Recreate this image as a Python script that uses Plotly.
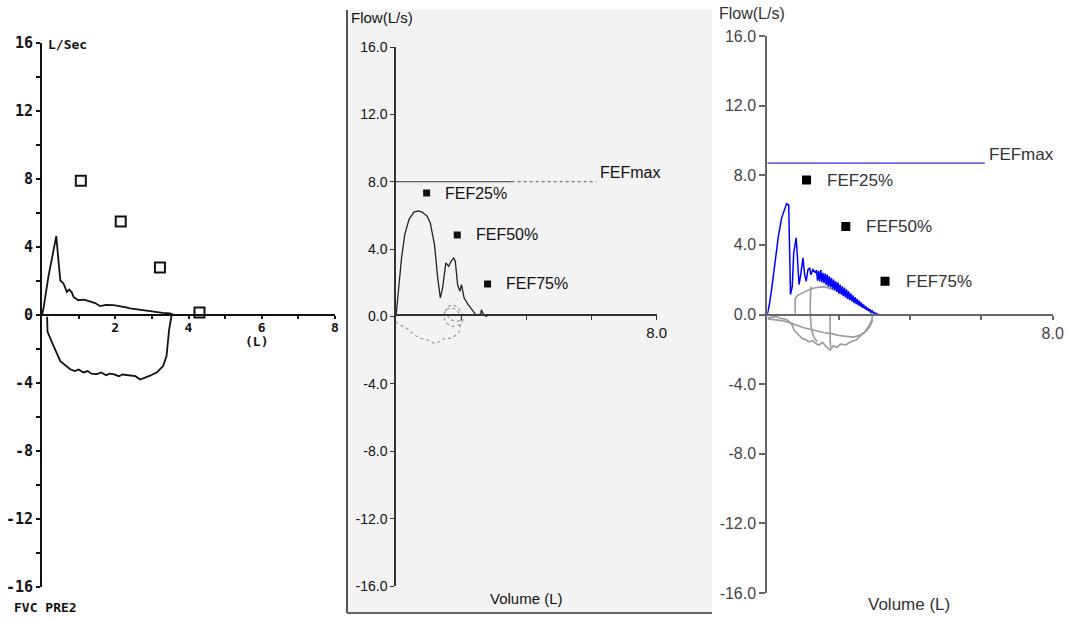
import plotly.graph_objects as go

W, H = 1066, 618
def px(x): return x / W
def py(y): return 1 - y / H

# ---------------- Panel 1 (dot-matrix printout) ----------------
p1_exp_vol = [0, 0.04, 0.18, 0.27, 0.33, 0.39, 0.45, 0.5, 0.59, 0.68, 0.74, 0.81, 0.86, 0.99, 1.15, 1.31, 1.45, 1.59, 1.75, 1.95, 2.05, 2.18, 2.3, 2.4, 2.6, 2.77, 2.95, 3.13, 3.3, 3.5, 3.6]
p1_exp_flow = [0, 0.39, 2.32, 3.38, 3.96, 4.64, 3.19, 2.03, 1.84, 1.35, 1.5, 1.35, 1.06, 0.87, 0.9, 0.77, 0.7, 0.52, 0.6, 0.58, 0.55, 0.48, 0.45, 0.39, 0.33, 0.25, 0.2, 0.15, 0.12, 0.1, 0]
p1_insp_vol = [0.14, 0.15, 0.32, 0.5, 0.77, 0.9, 1.0, 1.13, 1.25, 1.35, 1.5, 1.62, 1.75, 1.85, 1.95, 2.1, 2.2, 2.4, 2.55, 2.68, 2.8, 2.95, 3.15, 3.31, 3.4, 3.47, 3.54]
p1_insp_flow = [-0.1, -0.97, -1.84, -2.71, -3.19, -3.3, -3.2, -3.38, -3.3, -3.45, -3.48, -3.38, -3.55, -3.45, -3.48, -3.6, -3.5, -3.57, -3.6, -3.8, -3.7, -3.57, -3.35, -2.99, -2.42, -0.87, 0]
p1_ref_vol = [1.06, 2.15, 3.22, 4.3]
p1_ref_flow = [7.9, 5.5, 2.8, 0.15]
p1_ytick_vals = list(range(-16, 17, 2))
p1_ytick_text = [str(v) if v % 4 == 0 else '' for v in p1_ytick_vals]
p1_xtick_vals = list(range(1, 9))
p1_xtick_text = ['', '2', '', '4', '', '6', '', '8']

# ---------------- Panel 2 (scanned report) ----------------
p2_exp_vol = [0, 0.07, 0.17, 0.27, 0.4, 0.55, 0.68, 0.8, 0.95, 1.05, 1.18, 1.28, 1.36, 1.43, 1.53, 1.62, 1.69, 1.77, 1.82, 1.89, 1.96, 2.01, 2.09, 2.2, 2.3, 2.45, 2.6, 2.62, 2.7, 2.8]
p2_exp_flow = [0, 1.49, 3.48, 4.88, 5.77, 6.2, 6.27, 6.2, 5.97, 5.57, 4.28, 2.29, 1.1, 1.7, 3.18, 2.98, 3.28, 3.48, 3.28, 1.89, 1.49, 1.89, 1.1, 0.75, 0.5, 0.1, 0.14, 0.4, 0.06, 0]
p2_insp_vol = [0, 0.1, 0.25, 0.4, 0.56, 0.77, 0.97, 1.18, 1.33, 1.48, 1.69, 1.84, 1.94, 2.0, 2.02]
p2_insp_flow = [-0.3, -0.5, -0.6, -0.8, -1.1, -1.3, -1.4, -1.6, -1.5, -1.3, -1.3, -1.1, -0.9, -0.3, 0.1]
p2_loop_vol = [1.5, 1.6, 1.75, 1.9, 2.02, 2.06, 1.95, 1.75, 1.55, 1.46, 1.5, 1.58, 1.68, 1.83, 1.97, 2.02, 1.88, 1.68, 1.56]
p2_loop_flow = [0.3, 0.6, 0.7, 0.55, 0.2, -0.2, -0.5, -0.6, -0.4, 0.0, 0.3, 0.45, 0.5, 0.45, 0.1, -0.15, -0.3, -0.2, 0.1]
p2_fef_vol = [0.94, 1.88, 2.81]
p2_fef_flow = [7.33, 4.84, 1.93]
p2_fefmax = 8.0
p2_fefmax_vol = [0, 3.55, 6.15]

# ---------------- Panel 3 (software screen) ----------------
p3_blue_vol = [0, 0.06, 0.12, 0.22, 0.31, 0.4, 0.5, 0.54, 0.6, 0.63, 0.65, 0.7, 0.74, 0.81, 0.86, 0.89, 0.93, 1.0, 1.04, 1.09, 1.14, 1.19, 1.22, 1.28, 1.35,
               1.38, 1.41, 1.44, 1.47, 1.50, 1.53, 1.56, 1.59, 1.62, 1.65, 1.68, 1.71, 1.74, 1.77, 1.80, 1.83, 1.86, 1.89, 1.92, 1.95,
               1.98, 2.01, 2.04, 2.07, 2.10, 2.13, 2.16, 2.19, 2.22, 2.25, 2.28, 2.31, 2.34, 2.37, 2.40, 2.43, 2.46, 2.49, 2.52, 2.55,
               2.58, 2.61, 2.64, 2.67, 2.70, 2.73, 2.76, 2.79, 2.82, 2.85, 2.88, 2.91, 2.94, 2.97, 3.00, 3.03, 3.06, 3.09, 3.12, 3.14]
p3_blue_flow = [0, 0.6, 1.43, 2.96, 4.49, 5.54, 6.12, 6.36, 6.3, 3.35, 1.15, 1.62, 3.54, 4.4, 2.77, 1.72, 2.2, 3.25, 2.39, 1.91, 2.58, 2.68, 2.29, 2.58, 2.39,
                2.55, 1.95, 2.5, 1.9, 2.55, 1.85, 2.4, 1.8, 2.35, 1.7, 2.3, 1.6, 2.2, 1.55, 2.1, 1.45, 2.0, 1.4, 1.9, 1.3,
                1.85, 1.2, 1.72, 1.15, 1.62, 1.05, 1.55, 0.98, 1.45, 0.9, 1.33, 0.82, 1.22, 0.75, 1.1, 0.66, 1.0, 0.6, 0.9, 0.52,
                0.8, 0.45, 0.68, 0.38, 0.58, 0.32, 0.48, 0.26, 0.38, 0.2, 0.3, 0.14, 0.2, 0.09, 0.12, 0.05, 0.06, 0.02, 0.02, 0]
p3_gray_exp_vol = [0.78, 0.78, 0.85, 0.93, 1.05, 1.15, 1.25, 1.4, 1.48, 1.6, 1.75, 1.9, 2.05, 2.18, 2.35, 2.5, 2.65, 2.8, 2.93]
p3_gray_exp_flow = [0, 0.92, 1.1, 1.2, 1.3, 1.4, 1.49, 1.55, 1.58, 1.6, 1.5, 1.4, 1.25, 1.1, 0.9, 0.7, 0.5, 0.28, 0.06]
p3_gray_i1_vol = [0, 0.1, 0.23, 0.35, 0.42, 0.55, 0.61, 0.7, 0.75, 0.85, 0.98, 1.08, 1.17, 1.27, 1.36, 1.45, 1.55, 1.65, 1.76, 1.85, 1.95, 2.05, 2.2, 2.35, 2.5, 2.62, 2.75, 2.85, 2.93, 2.95]
p3_gray_i1_flow = [-0.2, -0.15, -0.12, -0.2, -0.23, -0.3, -0.42, -0.6, -0.9, -1.1, -1.38, -1.45, -1.57, -1.5, -1.67, -1.75, -1.6, -1.85, -2.04, -1.8, -1.9, -1.7, -1.75, -1.55, -1.45, -1.2, -0.95, -0.65, -0.3, 0.0]
p3_gray_i2_vol = [0.02, 0.2, 0.4, 0.6, 0.8, 1.0, 1.2, 1.4, 1.6, 1.8, 2.0, 2.2, 2.4, 2.6, 2.75, 2.88, 2.95]
p3_gray_i2_flow = [-0.25, -0.3, -0.35, -0.45, -0.6, -0.75, -0.85, -0.95, -1.05, -1.1, -1.2, -1.25, -1.3, -1.2, -1.0, -0.7, -0.3]
p3_gray_v1_vol = [1.22, 1.21, 1.2, 1.21, 1.23, 1.27, 1.33, 1.4]
p3_gray_v1_flow = [1.6, 1.1, 0.4, -0.2, -0.7, -1.1, -1.4, -1.56]
p3_gray_v2_vol = [1.76, 1.76, 1.75, 1.76, 1.78]
p3_gray_v2_flow = [0.0, -0.5, -1.0, -1.5, -1.9]
p3_fef_vol = [1.1, 2.2, 3.3]
p3_fef_flow = [7.72, 5.06, 1.91]
p3_fefmax = 8.7
p3_fefmax_vol = [0, 6.1]

fef_labels = ['FEF25%', 'FEF50%', 'FEF75%']
ytick_vals = list(range(-16, 17, 4))
ytick_text = ['%.1f' % v for v in ytick_vals]

fig = go.Figure()

def line(x, y, ax, color, width, dash='solid'):
    fig.add_trace(go.Scatter(x=x, y=y, mode='lines', xaxis='x' + ax, yaxis='y' + ax,
                             line=dict(color=color, width=width, dash=dash),
                             showlegend=False, hoverinfo='skip'))

# Panel 1
line(p1_exp_vol, p1_exp_flow, '', '#111', 1.8)
line(p1_insp_vol, p1_insp_flow, '', '#111', 1.8)
fig.add_trace(go.Scatter(x=p1_ref_vol, y=p1_ref_flow, mode='markers', xaxis='x', yaxis='y',
                         marker=dict(symbol='square-open', size=10, color='#111', line=dict(width=2, color='#111')),
                         showlegend=False, hoverinfo='skip'))

# Panel 2
line(p2_fefmax_vol[:2], [p2_fefmax] * 2, '2', '#333', 1.2)
line(p2_fefmax_vol[1:], [p2_fefmax] * 2, '2', '#555', 1.2, 'dot')
line(p2_insp_vol, p2_insp_flow, '2', '#999', 1.2, 'dot')
line(p2_loop_vol, p2_loop_flow, '2', '#999', 1.2, 'dot')
line(p2_exp_vol, p2_exp_flow, '2', '#222', 1.3)
fig.add_trace(go.Scatter(x=p2_fef_vol, y=p2_fef_flow, mode='markers', xaxis='x2', yaxis='y2',
                         marker=dict(symbol='square', size=7, color='#111'),
                         showlegend=False, hoverinfo='skip'))

# Panel 3
line(p3_fefmax_vol, [p3_fefmax] * 2, '3', '#2a2ae0', 1.3)
for vx, vy in [(p3_gray_exp_vol, p3_gray_exp_flow), (p3_gray_i1_vol, p3_gray_i1_flow),
               (p3_gray_i2_vol, p3_gray_i2_flow), (p3_gray_v1_vol, p3_gray_v1_flow),
               (p3_gray_v2_vol, p3_gray_v2_flow)]:
    line(vx, vy, '3', '#9a9a9a', 1.6)
line(p3_blue_vol, p3_blue_flow, '3', '#0000ff', 1.5)
fig.add_trace(go.Scatter(x=p3_fef_vol, y=p3_fef_flow, mode='markers', xaxis='x3', yaxis='y3',
                         marker=dict(symbol='square', size=9, color='#000'),
                         showlegend=False, hoverinfo='skip'))

mono = dict(family='DejaVu Sans Mono', size=15, color='#111', weight='bold')
mono_s = dict(family='DejaVu Sans Mono', size=13, color='#111', weight='bold')
arial2 = dict(family='Liberation Sans', size=14, color='#111')
arial3 = dict(family='Liberation Sans', size=16, color='#444')

layout = dict(
    width=W, height=H, margin=dict(l=0, r=0, t=0, b=0, pad=0), autosize=False,
    template='none',
    paper_bgcolor='white', plot_bgcolor='rgba(0,0,0,0)',
    # Panel 1 axes
    xaxis=dict(domain=[px(42), px(335)], range=[0, 8], anchor='free', position=py(315),
               showline=True, linecolor='#111', linewidth=2, ticks='outside', ticklen=3,
               tickwidth=2, tickcolor='#111', tickmode='array', tickvals=p1_xtick_vals,
               ticktext=p1_xtick_text, tickfont=mono_s, ticklabelstandoff=-3,
               showgrid=False, zeroline=False, automargin=False),
    yaxis=dict(domain=[py(587), py(43)], range=[-16, 16], anchor='x',
               showline=True, linecolor='#111', linewidth=2, ticks='outside', ticklen=4,
               tickwidth=2, tickcolor='#111', tickmode='array', tickvals=p1_ytick_vals,
               ticktext=p1_ytick_text, tickfont=mono, showgrid=False, zeroline=False, automargin=False),
    # Panel 2 axes
    xaxis2=dict(domain=[px(396), px(656.7)], range=[0, 8], anchor='free', position=py(315),
                showline=True, linecolor='#333', linewidth=1.5, ticks='outside', ticklen=4,
                tickwidth=1, tickcolor='#333', tickmode='array', tickvals=[2, 4, 6, 8],
                ticktext=['', '', '', '8.0'], tickfont=dict(family='Liberation Sans', size=15, color='#111'),
                showgrid=False, zeroline=False, automargin=False),
    yaxis2=dict(domain=[py(586), py(47)], range=[-16, 16], anchor='x2',
                showline=True, linecolor='#333', linewidth=1.5, ticks='outside', ticklen=4,
                tickwidth=1, tickcolor='#333', tickmode='array', tickvals=ytick_vals,
                ticktext=ytick_text, tickfont=arial2, showgrid=False, zeroline=False, automargin=False),
    # Panel 3 axes
    xaxis3=dict(domain=[px(767.3), px(1052.7)], range=[0, 8], anchor='free', position=py(315),
                showline=True, linecolor='#666', linewidth=2, ticks='outside', ticklen=4,
                tickwidth=1.5, tickcolor='#666', tickmode='array', tickvals=[2, 4, 6, 8],
                ticktext=['', '', '', '8.0'], tickfont=arial3, showgrid=False, zeroline=False, automargin=False),
    yaxis3=dict(domain=[py(593), py(36)], range=[-16, 16], anchor='x3',
                showline=True, linecolor='#666', linewidth=2, ticks='outside', ticklen=6,
                tickwidth=1.5, tickcolor='#666', tickmode='array', tickvals=ytick_vals,
                ticktext=ytick_text, tickfont=arial3, showgrid=False, zeroline=False, automargin=False),
)
fig.update_layout(**layout)

# Panel 2 scanned-paper background
fig.add_shape(type='rect', xref='paper', yref='paper', x0=px(347), x1=px(712), y0=py(613), y1=py(10),
              fillcolor='#f3f3f3', line=dict(width=0), layer='below')
fig.add_shape(type='line', xref='paper', yref='paper', x0=px(347), x1=px(347), y0=py(613), y1=py(10),
              line=dict(color='#555', width=2), layer='below')
fig.add_shape(type='line', xref='paper', yref='paper', x0=px(347), x1=px(712), y0=py(613), y1=py(613),
              line=dict(color='#666', width=2), layer='below')

def ann(text, x, y, font, xref='paper', yref='paper', xanchor='left'):
    fig.add_annotation(text=text, x=x, y=y, xref=xref, yref=yref, xanchor=xanchor,
                       yanchor='middle', showarrow=False, font=font)

# Panel 1 texts
ann('L/Sec', px(46), py(45), mono_s)
ann('(L)', px(256), py(341), mono_s, xanchor='center')
ann('FVC PRE2', px(12), py(607), mono_s)

# Panel 2 texts
t2 = dict(family='Liberation Sans', size=16, color='#111')
ann('Flow(L/s)', px(349), py(18), dict(family='Liberation Sans', size=15, color='#111'))
ann('Volume (L)', px(526), py(598), dict(family='Liberation Sans', size=15, color='#111'), xanchor='center')
ann('FEFmax', 6.2, 8.54, t2, 'x2', 'y2')
for lbl, vx, vy in zip(fef_labels, p2_fef_vol, p2_fef_flow):
    ann(lbl, vx + 0.5, vy, t2, 'x2', 'y2')

# Panel 3 texts
t3 = dict(family='Liberation Sans', size=17, color='#333')
ann('Flow(L/s)', px(717), py(14), dict(family='Liberation Sans', size=16, color='#333'))
ann('Volume (L)', px(909), py(604), t3, xanchor='center')
ann('FEFmax', 6.15, 9.17, t3, 'x3', 'y3')
for lbl, vx, vy in zip(fef_labels, p3_fef_vol, p3_fef_flow):
    ann(lbl, vx + 0.52, vy, t3, 'x3', 'y3')

fig.write_html('out.html', config={'displayModeBar': False},
               post_script="document.body.style.margin='0px';")
